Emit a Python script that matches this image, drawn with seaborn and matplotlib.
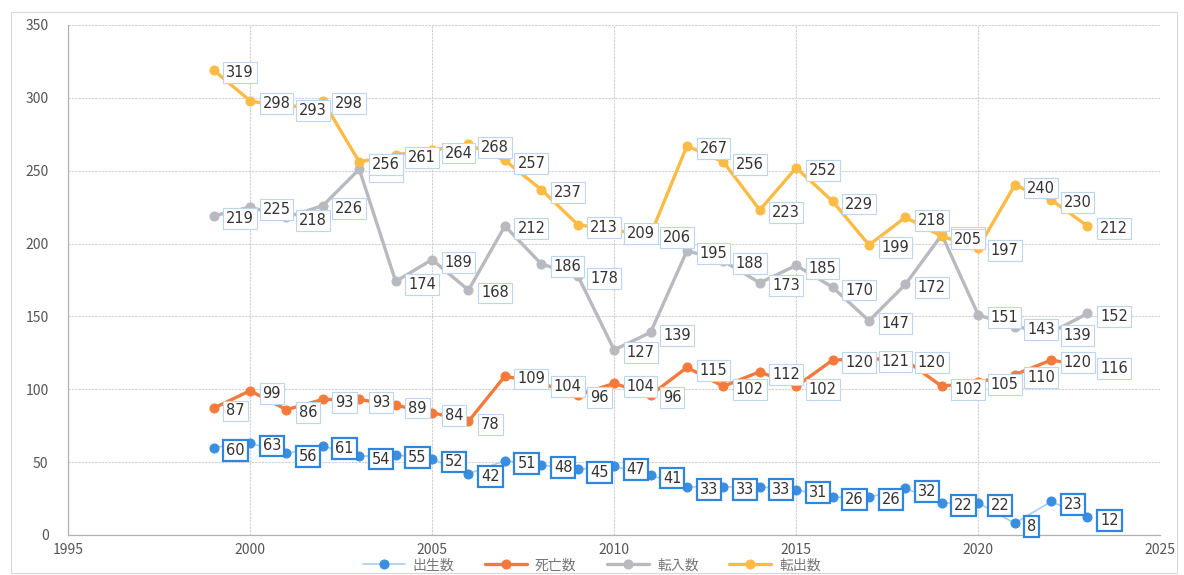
import numpy as np
import pandas as pd
import matplotlib
matplotlib.use("Agg")
import matplotlib.pyplot as plt
from matplotlib.patches import Rectangle
import seaborn as sns

years = list(range(1999, 2024))
births = [60, 63, 56, 61, 54, 55, 52, 42, 51, 48, 45, 47, 41, 33, 33, 33, 31, 26, 26, 32, 22, 22, 8, 23, 12]
deaths = [87, 99, 86, 93, 93, 89, 84, 78, 109, 104, 96, 104, 96, 115, 102, 112, 102, 120, 121, 120, 102, 105, 110, 120, 116]
move_in = [219, 225, 218, 226, 251, 174, 189, 168, 212, 186, 178, 127, 139, 195, 188, 173, 185, 170, 147, 172, 206, 151, 143, 139, 152]
move_out = [319, 298, 293, 298, 256, 261, 264, 268, 257, 237, 213, 209, 206, 267, 256, 223, 252, 229, 199, 218, 205, 197, 240, 230, 212]

names = ["出生数", "死亡数", "転入数", "転出数"]
values = [births, deaths, move_in, move_out]

sns.set_style("white")
plt.rcParams['font.family'] = ['Noto Sans CJK JP', 'DejaVu Sans']

fig = plt.figure(figsize=(11.84, 5.75), dpi=100)
ax = fig.add_axes([0.0574, 0.0696, 0.9226, 0.887])

# marker colour, line colour, label box edge colour, box edge width, line width
styles = {
    "出生数": ("#3a8ee0", "#a9cdf0", "#2f86de", 1.6, 1.2),
    "死亡数": ("#f47a3c", "#f47a3c", "#bcd6f2", 0.8, 2.4),
    "転入数": ("#b9b9c0", "#b9b9c0", "#bcd6f2", 0.8, 2.4),
    "転出数": ("#fbbb45", "#fbbb45", "#bcd6f2", 0.8, 2.4),
}

for name, vals in zip(names, values):
    mc, lc, bc, bw, lw = styles[name]
    df = pd.DataFrame({"year": years, "value": vals})
    sns.lineplot(data=df, x="year", y="value", ax=ax, color=lc, linewidth=lw,
                 marker="o", markersize=6.5, markerfacecolor=mc, markeredgecolor=mc,
                 label=name, zorder=3, legend=False)
    for x, y in zip(years, vals):
        ax.annotate(str(y), (x, y), xytext=(9, -2), textcoords="offset points",
                    ha="left", va="center", fontsize=10.5, color="#333333",
                    family=["DejaVu Sans"], zorder=4,
                    bbox=dict(boxstyle="square,pad=0.2", fc="white", ec=bc, lw=bw))

ax.set_xlim(1995, 2025)
ax.set_ylim(0, 350)
ax.set_xticks(range(1995, 2026, 5))
ax.set_yticks(range(0, 351, 50))
ax.set_xlabel("")
ax.set_ylabel("")
ax.grid(True, color="#cfcfd6", linestyle=(0, (2, 1)), linewidth=0.8)
ax.set_axisbelow(True)
for s in ["top", "right"]:
    ax.spines[s].set_visible(False)
for s in ["left", "bottom"]:
    ax.spines[s].set_color("#b0b0b8")
    ax.spines[s].set_linewidth(0.9)
ax.tick_params(axis="both", length=0, labelsize=10, labelcolor="#555555")
ax.tick_params(axis="y", pad=14)
ax.tick_params(axis="x", pad=6)

handles = ax.get_lines()[:4]
leg = fig.legend(handles, names, loc="center", bbox_to_anchor=(0.5, 0.017), ncol=4,
                 frameon=False, fontsize=10, handlelength=3, columnspacing=2.2,
                 borderpad=0, handletextpad=0.6)
for t in leg.get_texts():
    t.set_color("#777777")

fig.patches.append(Rectangle((0.009, 0.003), 0.985, 0.977, transform=fig.transFigure,
                             fill=False, ec="#d8d8d8", lw=0.8))

fig.savefig("out.png", dpi=100)
